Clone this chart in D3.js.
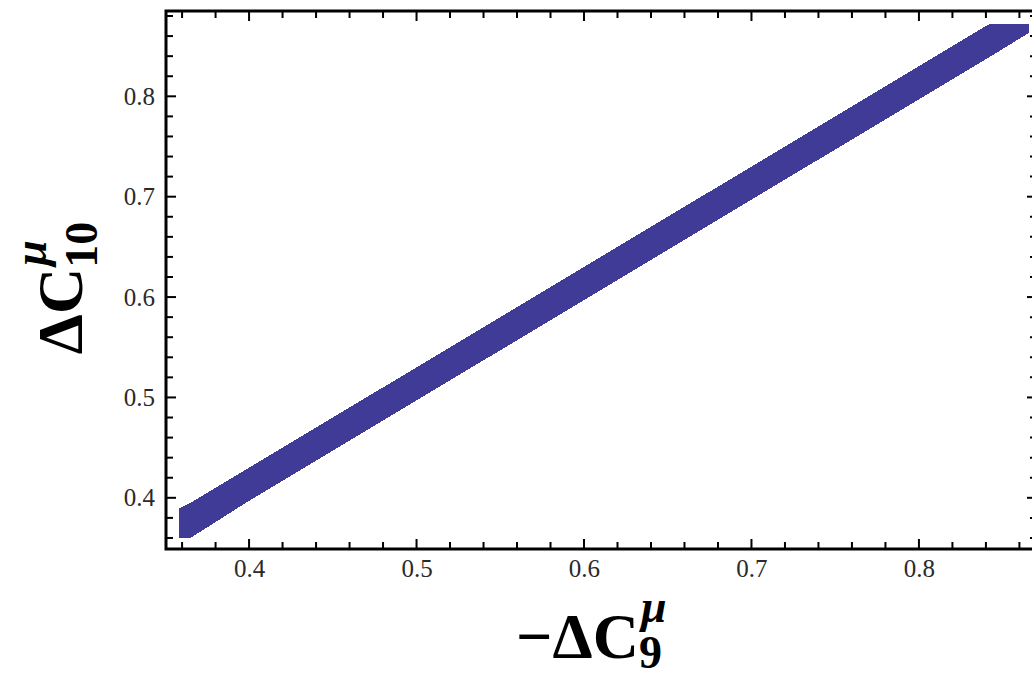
<!DOCTYPE html>
<html>
<head>
<meta charset="utf-8">
<script src="https://cdn.jsdelivr.net/npm/d3@7"></script>
<style>
  html, body { margin: 0; padding: 0; background: #fff; }
  svg { display: block; }
</style>
</head>
<body>
<div id="chart"></div>
<script>
// allowed region (band)
var bandX    = [0.358, 0.365, 0.40, 0.45, 0.50, 0.55, 0.60, 0.65, 0.70, 0.75, 0.80, 0.8425, 0.8655];
var bandLow  = [0.360, 0.360, 0.397, 0.447, 0.497, 0.547, 0.597, 0.647, 0.697, 0.747, 0.797, 0.8395, 0.8630];
var bandHigh = [0.389, 0.395, 0.430, 0.480, 0.530, 0.580, 0.630, 0.680, 0.730, 0.780, 0.830, 0.8725, 0.8725];

var xTicks = [0.4, 0.5, 0.6, 0.7, 0.8];
var yTicks = [0.4, 0.5, 0.6, 0.7, 0.8];

var width = 1032;
var height = 681;
var bandColor = '#3f3b96';
var tickFont = '"Liberation Serif", "DejaVu Serif", serif';

var plotLeft = 166, plotRight = 1037, plotTop = 11, plotBottom = 549;

var x = d3.scaleLinear().domain([0.3504, 0.8705]).range([plotLeft, plotRight]);
var y = d3.scaleLinear().domain([0.349, 0.885]).range([plotBottom, plotTop]);

var svg = d3.select('#chart').append('svg')
    .attr('width', width)
    .attr('height', height);

svg.append('rect')
    .attr('width', width)
    .attr('height', height)
    .attr('fill', '#fff');

// band
var band = bandX.map(function(d, i) { return {x: d, lo: bandLow[i], hi: bandHigh[i]}; });
var area = d3.area()
    .x(function(d) { return x(d.x); })
    .y0(function(d) { return y(d.lo); })
    .y1(function(d) { return y(d.hi); });

svg.append('path')
    .datum(band)
    .attr('d', area)
    .attr('fill', bandColor)
    .attr('shape-rendering', 'crispEdges');

// minor ticks every 0.02
var xMinor = d3.range(0.36, 0.871, 0.02);
var yMinor = d3.range(0.36, 0.881, 0.02);

function isMajor(v) { return Math.abs(v * 10 - Math.round(v * 10)) < 1e-6; }

var ticks = svg.append('g').attr('stroke', '#000').attr('stroke-width', 2);

xMinor.forEach(function(v) {
    var len = isMajor(v) ? 10 : 7;
    ticks.append('line')
        .attr('x1', x(v)).attr('x2', x(v))
        .attr('y1', plotBottom).attr('y2', plotBottom - len);
    ticks.append('line')
        .attr('x1', x(v)).attr('x2', x(v))
        .attr('y1', plotTop).attr('y2', plotTop + len);
});
yMinor.forEach(function(v) {
    var len = isMajor(v) ? 10 : 7;
    ticks.append('line')
        .attr('x1', plotLeft).attr('x2', plotLeft + len)
        .attr('y1', y(v)).attr('y2', y(v));
    ticks.append('line')
        .attr('x1', plotRight).attr('x2', plotRight - len)
        .attr('y1', y(v)).attr('y2', y(v));
});

// frame
svg.append('rect')
    .attr('x', plotLeft)
    .attr('y', plotTop)
    .attr('width', plotRight - plotLeft)
    .attr('height', plotBottom - plotTop)
    .attr('fill', 'none')
    .attr('stroke', '#000')
    .attr('stroke-width', 3);

// tick labels through d3 axes (lines hidden, drawn above)
var xAxis = svg.append('g')
    .attr('transform', 'translate(0,' + plotBottom + ')')
    .call(d3.axisBottom(x).tickValues(xTicks).tickSize(0).tickPadding(10).tickFormat(d3.format('.1f')));
var yAxis = svg.append('g')
    .attr('transform', 'translate(' + plotLeft + ',0)')
    .call(d3.axisLeft(y).tickValues(yTicks).tickSize(0).tickPadding(11).tickFormat(d3.format('.1f')));

[xAxis, yAxis].forEach(function(g) {
    g.select('.domain').remove();
    g.selectAll('text')
        .attr('font-family', tickFont)
        .attr('font-size', '25px')
        .attr('fill', '#2a2a2a');
});

// axis titles with stacked super/subscripts
function mathLabel(g, main, sup, sub, subDy) {
    var t = g.append('text')
        .attr('font-family', tickFont)
        .attr('font-weight', 'bold')
        .attr('font-size', '64px')
        .attr('fill', '#000')
        .text(main);
    var w = t.node().getComputedTextLength();
    g.append('text')
        .attr('x', w + 2)
        .attr('y', -36)
        .attr('font-family', tickFont)
        .attr('font-weight', 'bold')
        .attr('font-style', 'italic')
        .attr('font-size', '46px')
        .attr('fill', '#000')
        .text(sup);
    var s = g.append('text')
        .attr('x', w)
        .attr('y', subDy)
        .attr('font-family', tickFont)
        .attr('font-weight', 'bold')
        .attr('font-size', '46px')
        .attr('fill', '#000')
        .text(sub);
    return w + Math.max(s.node().getComputedTextLength(), 24);
}

var xLab = svg.append('g');
var xw = mathLabel(xLab, '\u2212\u0394C', '\u03bc', '9', 10);
xLab.attr('transform', 'translate(' + ((plotLeft + plotRight) / 2 - 12 - xw / 2) + ',658)');

var yLab = svg.append('g');
var yw = mathLabel(yLab, '\u0394C', '\u03bc', '10', 15);
yLab.attr('transform', 'translate(82,' + ((plotTop + plotBottom) / 2 + 8 + yw / 2) + ') rotate(-90)');
</script>
</body>
</html>
